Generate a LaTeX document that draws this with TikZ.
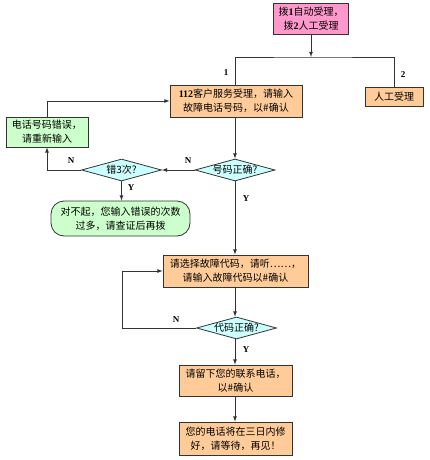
\documentclass[tikz,border=0pt]{standalone}
\usepackage{fontspec}
\setmainfont{Noto Sans CJK SC}
\newfontfamily\latin{Liberation Serif}
\usetikzlibrary{shapes.geometric}
\definecolor{pinkfill}{RGB}{255,153,204}
\definecolor{orangefill}{RGB}{255,204,153}
\definecolor{greenfill}{RGB}{204,255,204}
\definecolor{cyanfill}{RGB}{204,255,255}
\begin{document}
\begin{tikzpicture}[x=1pt,y=-1pt,>=latex,
    every node/.style={font=\fontsize{10}{14}\selectfont},
    box/.style={rectangle,draw=black!80,line width=0.8pt,fill=orangefill,align=center,inner sep=1pt},
    test/.style={diamond,draw=black!80,line width=0.8pt,fill=cyanfill,aspect=3.6,inner sep=0pt,
      minimum width=80,minimum height=22},
    tag/.style={font=\latin\bfseries\fontsize{9}{10}\selectfont},
    line/.style={draw=black!80,line width=0.8pt}]
                \useasboundingbox (0,0) rectangle (430,460);
                \node [box,fill=pinkfill,minimum width=75,minimum height=31] (start) at (311,18.5)
                  {拨{\latin\bfseries 1}自动受理，\\拨{\latin\bfseries 2}人工受理};
                \node [box,minimum width=132,minimum height=32] (svc) at (236,101)
                  {{\latin\bfseries 112}客户服务受理，请输入\\故障电话号码，以\#确认};
                \node [box,minimum width=58,minimum height=19] (man) at (394,96.5) {人工受理};
                \node [box,fill=greenfill,minimum width=82,minimum height=30] (err) at (47,132)
                  {电话号码错误，\\请重新输入};
                \node [test] (chk) at (235,170) {号码正确?};
                \node [test] (cnt) at (121.5,170) {错3次?};
                \node [box,fill=greenfill,rounded corners=13pt,minimum width=139,minimum height=35] (sorry) at (120.5,218.5)
                  {对不起，您输入错误的次数\\过多，请查证后再拨};
                \node [box,minimum width=145,minimum height=32] (code) at (235.5,271)
                  {请选择故障代码，请听……，\\请输入故障代码以\#确认};
                \node [test] (cchk) at (236.5,328) {代码正确?};
                \node [box,minimum width=113,minimum height=31] (tel) at (235.5,380.5)
                  {请留下您的联系电话，\\以\#确认};
                \node [box,minimum width=113,minimum height=33] (bye) at (235.5,438.5)
                  {您的电话将在三日内修\\好，请等待，再见！};
                % branching under the first box
                \coordinate (split) at (311,57);
                \coordinate (loop) at (122,328);
                \draw [line,->] (start) -- (split);
                \draw [line] (svc.north -| 235,0) |- (split) -| (man.north);
                \node [tag] (one) at (226,73) {1};
                \node [tag] (two) at (403,75) {2};
                \draw [line,->] (err.north) |- (svc.west);
                \draw [line,->] (svc.south -| 235,0) -- (chk.north);
                \draw [line,->] (chk.west) -- (cnt.east);
                \draw [line,->] (cnt.west) -| (err.south);
                \draw [line,->] (cnt.south) -- (sorry.north -| cnt.south);
                \draw [line,->] (chk.south) -- (code.north -| chk.south);
                \node [tag] (n1) at (188,161) {N};
                \node [tag] (n2) at (71,161) {N};
                \node [tag] (y1) at (131,188) {Y};
                \node [tag] (y2) at (246,199) {Y};
                % code loop
                \draw [line,->] (code.south -| 235,0) -- (cchk.north -| 235,0);
                \draw [line,->] (cchk.west) -- (loop) |- (code.west);
                \draw [line,->] (cchk.south -| 235,0) -- (tel.north -| 235,0);
                \draw [line,->] (tel.south -| 235,0) -- (bye.north -| 235,0);
                \node [tag] (n3) at (176,320) {N};
                \node [tag] (y3) at (246,350) {Y};
\end{tikzpicture}
\end{document}
